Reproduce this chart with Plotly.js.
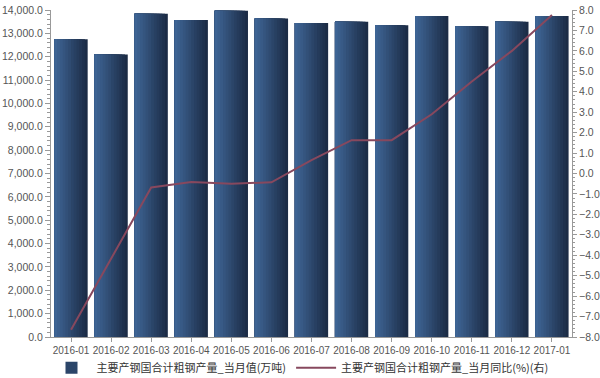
<!DOCTYPE html>
<html>
<head>
<meta charset="utf-8">
<script src="https://cdn.plot.ly/plotly-3.0.1.min.js"></script>
<style>html,body{margin:0;padding:0;background:#fff;}#chart{width:600px;height:378px;}</style>
</head>
<body>
<div id="chart"></div>
<script>
const categories = ['2016-01','2016-02','2016-03','2016-04','2016-05','2016-06','2016-07','2016-08','2016-09','2016-10','2016-11','2016-12','2017-01'];
const monthlyOutput = [12750, 12090, 13840, 13570, 13970, 13640, 13440, 13500, 13350, 13740, 13300, 13500, 13740];
const yoyChange = [-7.65, -4.2, -0.68, -0.42, -0.5, -0.43, 0.65, 1.63, 1.63, 2.9, 4.5, 6.0, 7.75];
const barName = '主要产钢国合计粗钢产量_当月值(万吨)';
const lineName = '主要产钢国合计粗钢产量_当月同比(%)(右)';

const N = 12;
const W = 0.83;
const dark = [28, 44, 70], light = [62, 100, 148];
const traces = [];
for (let i = 0; i < N; i++) {
  const t = i / (N - 1);
  const c = dark.map((d, k) => Math.round(d + (light[k] - d) * t));
  traces.push({
    type: 'bar', x: categories, y: monthlyOutput, name: barName,
    width: W * (1 - i / N), offset: -W / 2,
    marker: {color: 'rgb(' + c.join(',') + ')', line: {width: 0}},
    showlegend: i === 5, hoverinfo: 'skip'
  });
}
traces.push({
  type: 'scatter', mode: 'lines', x: categories, y: yoyChange, name: lineName,
  yaxis: 'y2', line: {color: '#87485e', width: 2}
});

const axisFont = {family: 'Liberation Sans, Arial, sans-serif', size: 10.5, color: '#555'};
const layout = {
  width: 600, height: 378,
  margin: {l: 51, r: 28, t: 10, b: 41},
  paper_bgcolor: '#fff', plot_bgcolor: '#fff',
  barmode: 'overlay',
  font: axisFont,
  xaxis: {
    type: 'category', showgrid: false, zeroline: false, automargin: false,
    showline: true, linecolor: '#999', linewidth: 1,
    ticks: 'outside', ticklen: 4, tickcolor: '#999', tickangle: 0,
    tickfont: {family: 'Liberation Sans, Arial, sans-serif', size: 10, color: '#555'},
    range: [-0.5, 12.5]
  },
  yaxis: {
    range: [0, 14000], dtick: 1000, tickformat: ',.1f', automargin: false,
    showgrid: false, zeroline: false,
    showline: true, linecolor: '#999', linewidth: 1,
    ticks: 'outside', ticklen: 5, tickcolor: '#999',
    minor: {dtick: 200, ticks: 'outside', ticklen: 3, tickcolor: '#999', showgrid: false},
    tickfont: axisFont
  },
  yaxis2: {
    overlaying: 'y', side: 'right', automargin: false,
    range: [-8, 8], dtick: 1, tickformat: '.1f',
    showgrid: false, zeroline: false,
    showline: true, linecolor: '#999', linewidth: 1,
    ticks: 'outside', ticklen: 4, tickcolor: '#999',
    minor: {dtick: 0.2, ticks: 'outside', ticklen: 2, tickcolor: '#999', showgrid: false},
    tickfont: axisFont
  },
  legend: {
    orientation: 'h', xref: 'container', yref: 'container',
    x: 0.5, xanchor: 'center', y: 0.027, yanchor: 'middle',
    font: {family: 'Noto Sans CJK SC, sans-serif', size: 11, color: '#333'},
    bgcolor: 'rgba(0,0,0,0)', itemwidth: 40, tracegroupgap: 0
  }
};
Plotly.newPlot('chart', traces, layout, {displayModeBar: false, staticPlot: true});
</script>
</body>
</html>
